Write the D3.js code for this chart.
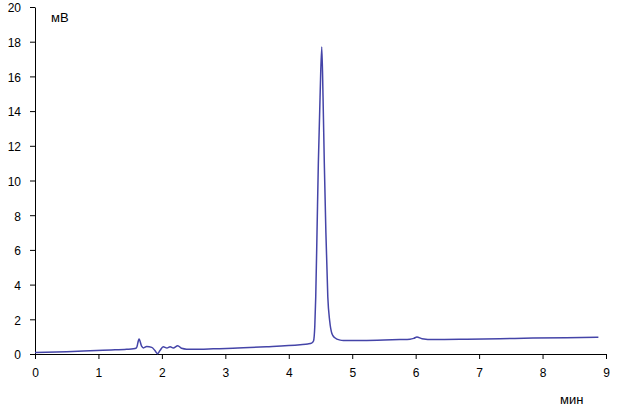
<!DOCTYPE html>
<html><head><meta charset="utf-8">
<script src="https://cdn.jsdelivr.net/npm/d3@7"></script>
<style>body{margin:0;background:#fff}svg{display:block}</style>
</head><body>
<script>
const times = [0,0.5,0.97,1.2,1.445,1.55,1.6,1.64,1.68,1.71,1.76,1.84,1.89,1.93,1.97,2.02,2.08,2.13,2.18,2.25,2.31,2.39,2.6,2.81,3.12,3.65,4.18,4.30,4.36,4.39,4.41,4.425,4.445,4.466,4.493,4.52,4.54,4.56,4.585,4.615,4.645,4.678,4.72,4.81,4.86,5.23,5.75,5.91,5.97,6.02,6.10,6.28,6.81,7.33,7.85,8.38,8.88];
const signal = [0.08,0.13,0.2,0.23,0.27,0.3,0.36,0.86,0.45,0.35,0.43,0.38,0.2,0.02,0.2,0.42,0.35,0.42,0.35,0.48,0.33,0.28,0.28,0.3,0.33,0.42,0.54,0.58,0.63,0.75,1.6,3.3,7,11,14.8,17.7,14.8,11,7,3.3,1.9,1.2,0.95,0.8,0.78,0.78,0.83,0.85,0.9,0.98,0.88,0.83,0.85,0.88,0.92,0.94,0.96];
const xTicks = [0,1,2,3,4,5,6,7,8,9];
const yTicks = [0,2,4,6,8,10,12,14,16,18,20];
const yUnit = "мВ";
const xUnit = "мин";

const W = 629, H = 417;
const svg = d3.select("body").append("svg").attr("width", W).attr("height", H);
const x = d3.scaleLinear().domain([0, 9]).range([35, 606]);
const y = d3.scaleLinear().domain([0, 20]).range([354, 7]);

const font = "Liberation Sans, Arial, sans-serif";

const xAxis = svg.append("g").attr("transform", "translate(0,354)")
  .call(d3.axisBottom(x).tickValues(xTicks).tickFormat(d3.format("d")).tickSize(5).tickSizeOuter(0).tickPadding(9));
const yAxis = svg.append("g").attr("transform", "translate(35,0)")
  .call(d3.axisLeft(y).tickValues(yTicks).tickFormat(d3.format("d")).tickSize(5).tickSizeOuter(0).tickPadding(9));
[xAxis, yAxis].forEach(g => {
  g.selectAll("path,line").attr("stroke", "#000").attr("stroke-width", 1);
  g.selectAll("text").attr("font-family", font).attr("font-size", 12).attr("fill", "#000");
});
yAxis.selectAll("text").attr("dy", "0.4em");

const pts = times.map((t, i) => [t, signal[i]]);
svg.append("path").datum(pts)
  .attr("fill", "none").attr("stroke", "#4444a8").attr("stroke-width", 1.5)
  .attr("d", d3.line().x(d => x(d[0])).y(d => y(d[1])).curve(d3.curveMonotoneX));

svg.append("text").attr("x", 51).attr("y", 22).attr("font-family", font).attr("font-size", 13).text(yUnit);
svg.append("text").attr("x", 560).attr("y", 404).attr("font-family", font).attr("font-size", 13).text(xUnit);
</script>
</body></html>
